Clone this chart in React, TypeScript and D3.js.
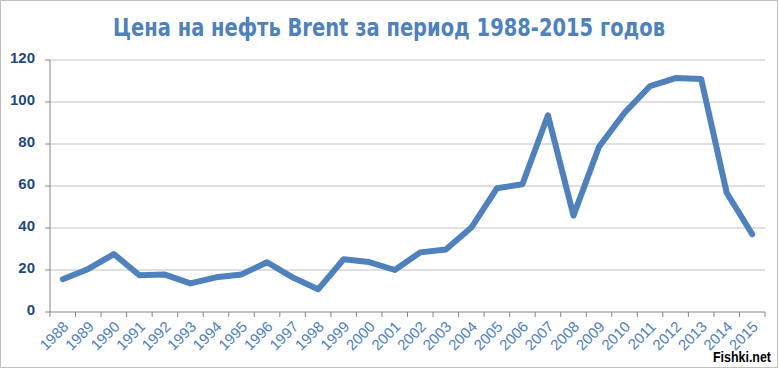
import React from "react";
import * as d3 from "d3";

const years = ["1988","1989","1990","1991","1992","1993","1994","1995","1996","1997","1998","1999","2000","2001","2002","2003","2004","2005","2006","2007","2008","2009","2010","2011","2012","2013","2014","2015"];
const prices = [15.6,20.5,27.6,17.5,17.8,13.6,16.5,17.9,23.7,16.5,10.8,25.1,23.8,20.0,28.4,29.8,40.2,58.9,60.8,93.7,45.9,78.7,94.9,107.6,111.4,111.0,56.8,37.0];
const yTicks = [0,20,40,60,80,100,120];
const title = "Цена на нефть Brent за период 1988-2015 годов";

const W = 779, H = 369;
const left = 50, right = 765, top = 60, bottom = 312;

export default function App() {
  const x = d3.scaleBand<string>().domain(years).range([left, right]).padding(0);
  const y = d3.scaleLinear().domain([0, 120]).range([bottom, top]);
  const line = d3.line<number>()
    .x((_, i) => (x(years[i]) as number) + x.bandwidth() / 2)
    .y((d) => y(d));
  const boundaries = years.map((yr) => x(yr) as number).concat([right]);
  return (
    <svg width={W} height={H} style={{ position: "absolute", left: 0, top: 0, background: "#fff" }}>
      <rect x={0.5} y={0.5} width={W - 2} height={H - 2} fill="#fff" stroke="#BFBFBF" />
      <text x={389} y={36} textAnchor="middle" fontFamily="'Liberation Sans Narrow','DejaVu Sans Condensed',Arial,sans-serif" fontWeight="bold" fontSize={24} fill="#4F81BD" textLength={552} lengthAdjust="spacingAndGlyphs">{title}</text>
      {yTicks.filter((t) => t > 0).map((t) => (
        <line key={"g" + t} x1={left} x2={right} y1={y(t)} y2={y(t)} stroke="#BFBFBF" strokeWidth={1} />
      ))}
      {yTicks.map((t) => (
        <g key={"yt" + t}>
          <line x1={left - 5} x2={left} y1={y(t)} y2={y(t)} stroke="#868686" />
          <text x={35} y={y(t) - 2} dy="0.35em" textAnchor="end" fontFamily="Arial, 'Liberation Sans', sans-serif" fontWeight="bold" fontSize={15} fill="#1F497D">{t}</text>
        </g>
      ))}
      <line x1={left} x2={left} y1={top} y2={bottom} stroke="#868686" />
      <line x1={left} x2={right} y1={bottom} y2={bottom} stroke="#868686" />
      {boundaries.map((b, i) => (
        <line key={"xt" + i} x1={b} x2={b} y1={bottom} y2={bottom + 5} stroke="#868686" />
      ))}
      {years.map((yr) => {
        const cx = (x(yr) as number) + x.bandwidth() / 2 + 3;
        const cy = bottom + 12;
        return (
          <text key={"xl" + yr} x={cx} y={cy} textAnchor="end" dy="0.35em" transform={`rotate(-45 ${cx} ${cy})`} fontFamily="Arial, 'Liberation Sans', sans-serif" fontSize={15} fill="#4F81BD">{yr}</text>
        );
      })}
      <path d={line(prices) ?? ""} fill="none" stroke="#4F81BD" strokeWidth={6} strokeLinejoin="round" strokeLinecap="round" />
      <text x={771} y={362} textAnchor="end" fontFamily="Arial, 'Liberation Sans', sans-serif" fontWeight="bold" fontSize={14} fill="#000" stroke="#fff" strokeWidth={3} paintOrder="stroke" textLength={58} lengthAdjust="spacingAndGlyphs">Fishki.net</text>
    </svg>
  );
}
